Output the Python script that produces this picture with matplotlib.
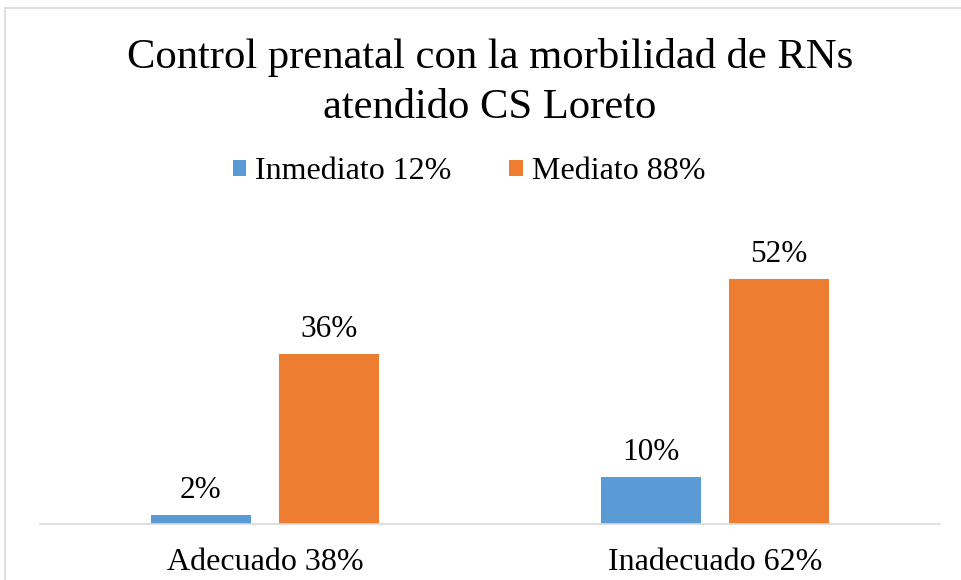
import matplotlib
matplotlib.use("Agg")
import matplotlib.pyplot as plt
from matplotlib.patches import Rectangle
import numpy as np

categories = ["Adecuado 38%", "Inadecuado 62%"]
series_names = ["Inmediato 12%", "Mediato 88%"]
inmediato = [2, 10]
mediato = [36, 52]
colors = ["#5B9BD5", "#ED7D31"]
title_lines = ["Control prenatal con la morbilidad de RNs", "atendido CS Loreto"]

plt.rcParams['font.family'] = ['Liberation Serif', 'DejaVu Serif']

fig = plt.figure(figsize=(9.61, 5.8), dpi=100)
# outer chart border
fig.patches.append(Rectangle((5/961, -0.1), 1.1, (580-8)/580 + 0.1, transform=fig.transFigure,
                             fill=False, edgecolor="#D9D9D9", linewidth=1.2))

ax = fig.add_axes([40/961, 56/580, 900/961, 283/580])
x = np.arange(len(categories))
w = 0.222
off = 0.1425
b1 = ax.bar(x - off, inmediato, w, color=colors[0], label=series_names[0])
b2 = ax.bar(x + off, mediato, w, color=colors[1], label=series_names[1])
for bars, vals in ((b1, inmediato), (b2, mediato)):
    for r, v in zip(bars, vals):
        ax.annotate(f"{v}%", (r.get_x() + r.get_width()/2, v), xytext=(0, 7),
                    textcoords="offset points", ha="center", va="bottom", fontsize=22.5)

ax.set_xlim(-0.5, 1.5)
ax.set_ylim(0, 60)
ax.set_xticks(x)
ax.set_xticklabels(categories, fontsize=23)
ax.tick_params(axis='x', length=0, pad=17.5)
ax.set_yticks([])
for s in ("top", "right", "left"):
    ax.spines[s].set_visible(False)
ax.spines["bottom"].set_color("#D9D9D9")
ax.spines["bottom"].set_linewidth(1.2)

for line, yb in zip(title_lines, (68, 118)):
    fig.text(0.51, 1 - yb/580, line, ha="center", va="baseline", fontsize=30.7)

fig.legend(handles=[b1, b2], loc="center", bbox_to_anchor=(0.488, 1 - 172/580), ncol=2,
           frameon=False, fontsize=23, handlelength=0.42, handleheight=0.42,
           handletextpad=0.28, columnspacing=1.8)

fig.savefig("out.png", dpi=100)
